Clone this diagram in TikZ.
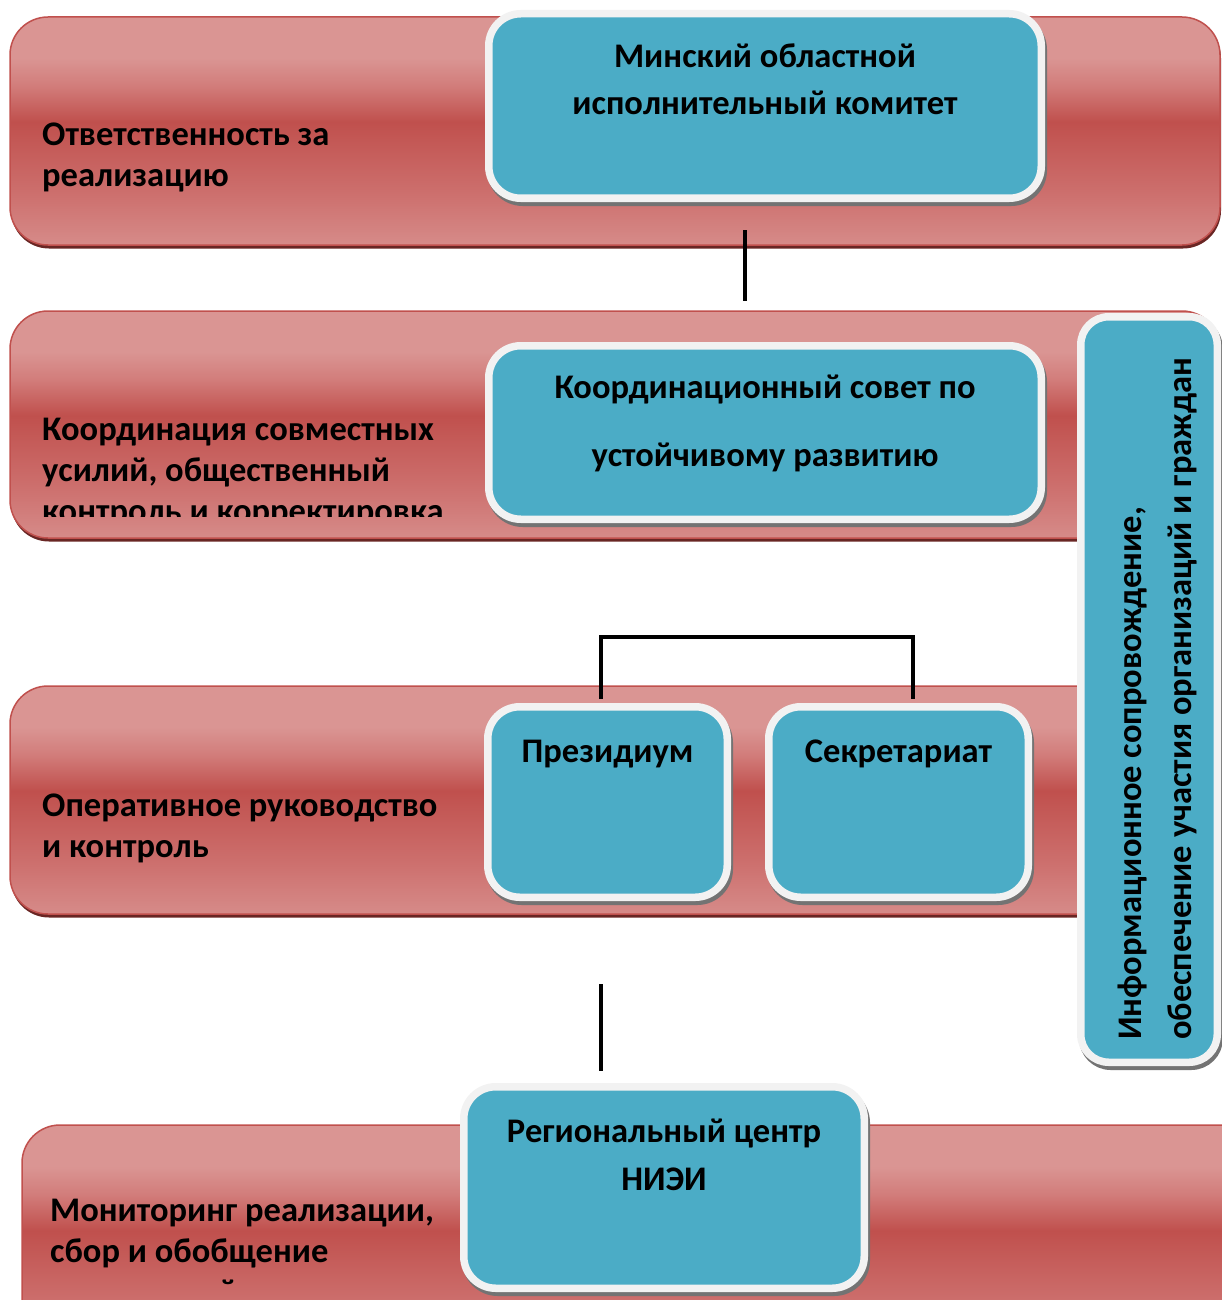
\documentclass[tikz,border=0pt]{standalone}
\usepackage{fontspec}
\setmainfont{Carlito}
\usetikzlibrary{positioning,shadows}

\definecolor{bandhi}{RGB}{218,149,147}
\definecolor{bandhitwo}{RGB}{210,125,123}
\definecolor{bandmid}{RGB}{192,80,77}
\definecolor{bandlotwo}{RGB}{205,112,110}
\definecolor{bandlo}{RGB}{214,139,137}
\definecolor{bandshadow}{RGB}{105,38,36}
\definecolor{boxfill}{RGB}{75,172,198}
\definecolor{boxrim}{RGB}{242,242,242}

\pgfdeclareverticalshading{bandglow}{100bp}{color(0bp)=(bandlo); color(25bp)=(bandlo); color(36bp)=(bandlotwo); color(52bp)=(bandmid); color(60bp)=(bandhitwo); color(66bp)=(bandhi); color(75bp)=(bandhi); color(100bp)=(bandhi)}

\tikzset{
  band/.style={draw=bandmid, line width=1.5pt, rounded corners=38pt,
    shade, shading=bandglow,
    drop shadow={shadow xshift=1pt, shadow yshift=-3.5pt, fill=bandshadow, opacity=1}},
  bandtext/.style={font=\bfseries\fontsize{34.5}{41}\selectfont, align=left,
    inner sep=0pt, anchor=base west},
  unitbox/.style={draw=boxrim, line width=7.5pt, fill=boxfill, rounded corners=32pt,
    drop shadow={shadow xshift=2pt, shadow yshift=-4pt, fill=black!55,
      draw=black!55, line width=7.5pt, opacity=1}},
  unittext/.style={font=\bfseries\fontsize{34.5}{47}\selectfont, align=center,
    inner sep=0pt},
  link/.style={line width=4pt},
}

\begin{document}
\begin{tikzpicture}[x=1pt, y=-1pt]
\clip (0,0) rectangle (1222,1300);

% levels
\node[band, minimum width=1210pt, minimum height=228pt] (resp) at (615,131) {};
\node[band, minimum width=1210pt, minimum height=227pt] (coord) at (615,424.5) {};
\node[band, minimum width=1210pt, minimum height=228pt] (oper) at (615,800) {};
\node[band, minimum width=1240pt, minimum height=230pt] (monit) at (642,1240) {};

\node[bandtext] (resplbl) at (42,186) {Ответственность за\\реализацию};
\begin{scope}
  \clip (0,0) rectangle (480,516.7);
  \node[bandtext] (coordlbl) at (42,522) {Координация совместных\\усилий, общественный\\контроль и корректировка};
\end{scope}
\node[bandtext] (operlbl) at (42,857) {Оперативное руководство\\и контроль};
\begin{scope}
  \clip (0,0) rectangle (480,1284.5);
  \node[bandtext] (monitlbl) at (50,1303) {Мониторинг реализации,\\сбор и обобщение\\показателей};
\end{scope}

% links
\coordinate (upA) at (745,230);
\coordinate (upB) at (745,301);
\draw[link] (upA) -- (upB);
\coordinate (brL) at (601,699);
\coordinate (brR) at (913,699);
\draw[line width=3.5pt] (brL) -- ++(0,-62) -| (brR);
\coordinate (dnA) at (601,984);
\coordinate (dnB) at (601,1071);
\draw[link] (dnA) -- (dnB);

% units
\node[unitbox, minimum width=552.5pt, minimum height=184.5pt] (mogik) at (765,106) {};
\node[unittext, below=105pt of mogik.north, anchor=base] (mogiklbl)
  {Минский областной\\исполнительный комитет};

\node[unitbox, minimum width=552.5pt, minimum height=173.5pt] (ksovet) at (765,432.5) {};
\node[unittext, below=124.7pt of ksovet.north, anchor=base,
  font=\bfseries\fontsize{34.5}{68}\selectfont] (ksovetlbl)
  {Координационный совет по\\устойчивому развитию};

\node[unitbox, minimum width=239.5pt, minimum height=190.5pt] (prez) at (607.5,802) {};
\node[unittext, below=59pt of prez.north, anchor=base] (prezlbl) {Президиум};

\node[unitbox, minimum width=259.5pt, minimum height=190.5pt] (sekr) at (898.5,802) {};
\node[unittext, below=59pt of sekr.north, anchor=base] (sekrlbl) {Секретариат};

\node[unitbox, minimum width=400.5pt, minimum height=201.5pt] (niei) at (664,1187.5) {};
\node[unittext, below=107pt of niei.north, anchor=base,
  font=\bfseries\fontsize{34.5}{48}\selectfont] (nieilbl)
  {Региональный центр\\НИЭИ};

\node[unitbox, rounded corners=28pt, minimum width=136.5pt, minimum height=745.5pt] (info) at (1149,689.5) {};
\begin{scope}
  \clip (1080,316) rectangle (1196,1062);
  \node[bandtext, rotate=90, font=\bfseries\fontsize{34.5}{50}\selectfont] (infolbl) at (1191,1040)
    {Информационное сопровождение,\\обеспечение участия организаций и граждан};
\end{scope}
\end{tikzpicture}
\end{document}
